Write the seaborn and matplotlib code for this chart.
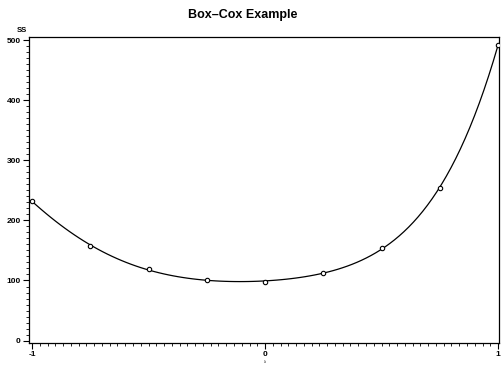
import numpy as np
import pandas as pd
import matplotlib
matplotlib.use("Agg")
import matplotlib.pyplot as plt
from matplotlib.ticker import MultipleLocator, FixedLocator
import seaborn as sns

# data
lam = [-1.0, -0.75, -0.5, -0.25, 0.0, 0.25, 0.5, 0.75, 1.0]
ss = [232, 158, 119, 100.5, 98, 112, 154, 254, 492]
xticks = [-1, 0, 1]
yticks = [0, 100, 200, 300, 400, 500]

sns.set_theme(style="white")
plt.rcParams['font.family'] = ['Liberation Sans', 'DejaVu Sans']
plt.rcParams['text.color'] = 'black'
plt.rcParams['xtick.color'] = 'black'
plt.rcParams['ytick.color'] = 'black'
plt.rcParams['axes.labelcolor'] = 'black'

df = pd.DataFrame({"lam": lam, "ss": ss})

fig = plt.figure(figsize=(5.02, 3.68), dpi=100)
ax = fig.add_axes([29/502, 1 - 343/368, (499-29)/502, (343-36.5)/368])

sns.regplot(data=df, x="lam", y="ss", order=5, ci=None, scatter=False,
            line_kws=dict(color="black", lw=0.9), ax=ax)
sns.scatterplot(data=df, x="lam", y="ss", marker="o", s=10,
                facecolor="white", edgecolor="black", linewidth=0.8, ax=ax, zorder=3)

ax.set_xlim(-1.013, 1.004)
ax.set_ylim(-4, 506)
ax.xaxis.set_major_locator(FixedLocator(xticks))
ax.yaxis.set_major_locator(FixedLocator(yticks))
ax.xaxis.set_minor_locator(MultipleLocator(1/30))
ax.yaxis.set_minor_locator(MultipleLocator(10))
ax.set_xticklabels([str(t) for t in xticks], fontsize=6, fontweight="bold")
ax.set_yticklabels([str(t) for t in yticks], fontsize=6, fontweight="bold")
ax.tick_params(which="major", direction="out", length=4, width=0.8, color="black",
               bottom=True, left=True, pad=2)
ax.tick_params(which="minor", direction="out", length=2, width=0.6, color="black",
               bottom=True, left=True)
for s in ax.spines.values():
    s.set_color("black")
    s.set_linewidth(0.9)
ax.set_xlabel("")
ax.set_ylabel("")

fig.text(22/502, 1 - 34/368, "SS", fontsize=5.5, fontweight="bold", ha="center", va="bottom")
fig.text(265/502, 1 - 364/368, "λ", fontsize=3, ha="center", va="bottom")
fig.text(243/502, 1 - 15/368, "Box\u2013Cox Example", fontsize=9, fontweight="bold",
         ha="center", va="center")

fig.savefig("out.png", dpi=100)
